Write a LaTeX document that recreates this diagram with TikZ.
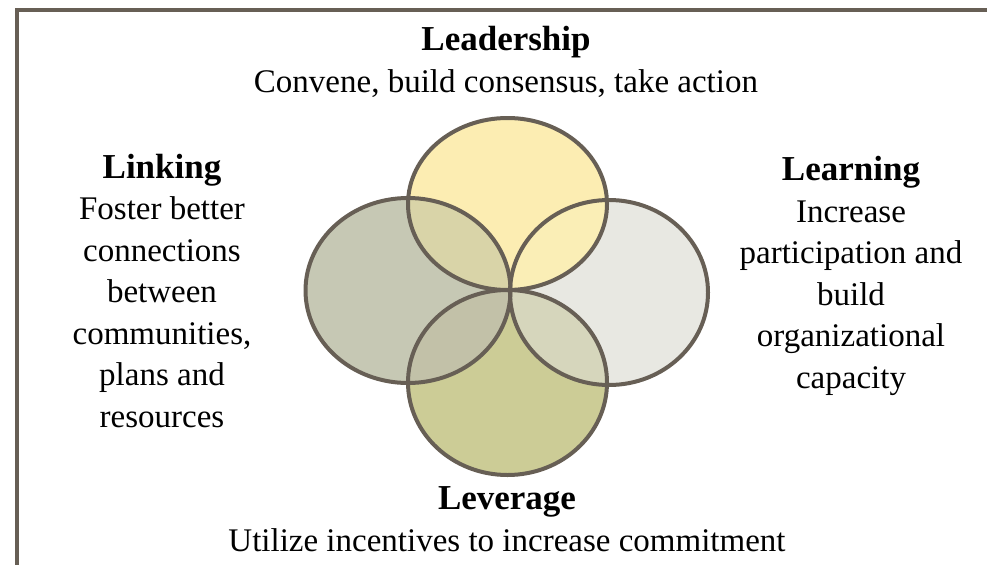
\documentclass[tikz,border=0pt]{standalone}
\usepackage{fontspec}
\setmainfont{Liberation Serif}
\definecolor{edge}{HTML}{675F55}
\definecolor{cTop}{HTML}{FCEDB2}
\definecolor{cLeft}{HTML}{C6C8B4}
\definecolor{cRight}{HTML}{E8E8E2}
\definecolor{cBot}{HTML}{CCCC96}
\definecolor{cTL}{HTML}{D9D4A8}
\definecolor{cTR}{HTML}{FAEEB6}
\definecolor{cBL}{HTML}{C2C1A8}
\definecolor{cBR}{HTML}{D6D6BC}
\newcommand{\ttl}[1]{{\fontsize{35}{41.5}\selectfont\bfseries #1}}
\begin{document}
\begin{tikzpicture}[x=1pt,y=-1pt,
  txt/.style={align=center,inner sep=0pt,anchor=base,font=\fontsize{33}{41.5}\selectfont},
  outline/.style={draw=edge,line width=4pt}]
\useasboundingbox (0,0) rectangle (987,565);
% frame
\draw[edge,line width=4pt] (987,10) -- (17,10) -- (17,565);
% base fills
\fill[cLeft]  (408,290.5) ellipse [x radius=102.5, y radius=92.5];
\fill[cRight] (609,292.5) ellipse [x radius=99, y radius=92.5];
\fill[cTop]   (507.5,204) ellipse [x radius=99.5, y radius=86];
\fill[cBot]   (507.5,382.5) ellipse [x radius=99.5, y radius=92.5];
% overlaps
\begin{scope}
  \clip (507.5,204) ellipse [x radius=99.5, y radius=86];
  \fill[cTL] (408,290.5) ellipse [x radius=102.5, y radius=92.5];
  \fill[cTR] (609,292.5) ellipse [x radius=99, y radius=92.5];
\end{scope}
\begin{scope}
  \clip (507.5,382.5) ellipse [x radius=99.5, y radius=92.5];
  \fill[cBL] (408,290.5) ellipse [x radius=102.5, y radius=92.5];
  \fill[cBR] (609,292.5) ellipse [x radius=99, y radius=92.5];
\end{scope}
% outlines
\draw[outline] (408,290.5) ellipse [x radius=102.5, y radius=92.5];
\draw[outline] (609,292.5) ellipse [x radius=99, y radius=92.5];
\draw[outline] (507.5,204) ellipse [x radius=99.5, y radius=86];
\draw[outline] (507.5,382.5) ellipse [x radius=99.5, y radius=92.5];
% texts (anchored at the baseline of the last line)
\node[txt] (lead) at (506,92) {\ttl{Leadership}\\Convene, build consensus, take action};
\node[txt] (link) at (162,427) {\ttl{Linking}\\Foster better\\connections\\between\\communities,\\plans and\\resources};
\node[txt] (learn) at (851,388) {\ttl{Learning}\\Increase\\participation and\\build\\organizational\\capacity};
\node[txt] (lev) at (507,551) {\ttl{Leverage}\\Utilize incentives to increase commitment};
\end{tikzpicture}
\end{document}
